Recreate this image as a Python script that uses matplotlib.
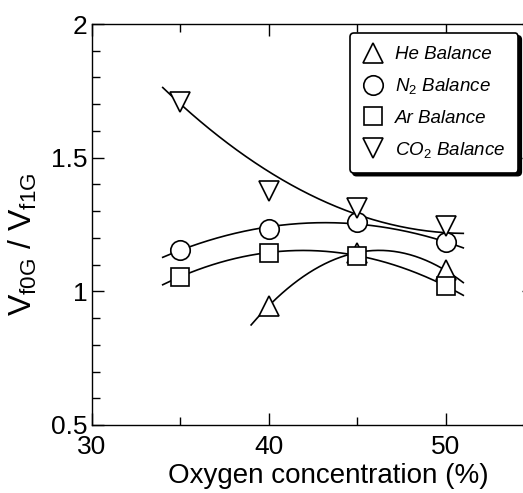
import numpy as np
import matplotlib
matplotlib.use("Agg")
import matplotlib.pyplot as plt
from matplotlib.ticker import MultipleLocator

plt.rcParams['font.family'] = ['Liberation Sans', 'DejaVu Sans']
plt.rcParams['mathtext.fontset'] = 'custom'
plt.rcParams['mathtext.rm'] = 'Liberation Sans'
plt.rcParams['mathtext.it'] = 'Liberation Sans:italic'

# ---- data ----
oxygen = [35, 40, 45, 50]
he_x = [40, 45, 50]
he_y = [0.946, 1.145, 1.078]
n2_y = [1.156, 1.235, 1.258, 1.183]
ar_y = [1.055, 1.145, 1.134, 1.020]
co2_y = [1.708, 1.375, 1.310, 1.243]
# fitted trend line for CO2 as drawn in the reference (read at the same x)
co2_trend = [1.700, 1.450, 1.285, 1.220]

labels = ['He Balance', 'N$_2$ Balance', 'Ar Balance', 'CO$_2$ Balance']
x_ticks = [30, 40, 50]
y_ticks = [0.5, 1.0, 1.5, 2.0]
y_ticklabels = ['0.5', '1', '1.5', '2']

W, H = 523, 493
fig = plt.figure(figsize=(W / 100, H / 100), dpi=100)
ax = fig.add_axes([92 / W, 1 - 425 / H, (534 - 92) / W, (425 - 24) / H])

lw = 1.2
def fit_line(xs, ys, x0, x1):
    c = np.polyfit(xs, ys, 2)
    xx = np.linspace(x0, x1, 200)
    ax.plot(xx, np.polyval(c, xx), color='black', lw=lw, zorder=2)

fit_line(he_x, he_y, 39, 51)
fit_line(oxygen, n2_y, 34, 51)
fit_line(oxygen, ar_y, 34, 51)
fit_line(oxygen, co2_trend, 34, 51)

mk = dict(mfc='white', mec='black', mew=1.2, ms=14, ls='none', zorder=3)
h1, = ax.plot(he_x, he_y, marker='^', label=labels[0], **mk)
h2, = ax.plot(oxygen, n2_y, marker='o', label=labels[1], **mk)
h3, = ax.plot(oxygen, ar_y, marker='s', label=labels[2], **{**mk, 'ms': 13})
h4, = ax.plot(oxygen, co2_y, marker='v', label=labels[3], **mk)

ax.set_xlim(30, 55)
ax.set_ylim(0.5, 2.0)
ax.set_xticks(x_ticks)
ax.set_yticks(y_ticks)
ax.set_yticklabels(y_ticklabels)
ax.xaxis.set_minor_locator(MultipleLocator(5))
ax.yaxis.set_minor_locator(MultipleLocator(0.1))
ax.tick_params(which='both', direction='in', top=True, right=True, width=1.0)
ax.tick_params(which='major', length=8.5)
ax.tick_params(which='minor', length=5.5)
ax.tick_params(axis='x', which='major', labelsize=19, pad=7)
ax.tick_params(axis='y', which='major', labelsize=19, pad=3)
for s in ax.spines.values():
    s.set_linewidth(1.0)

ax.set_xlabel('Oxygen concentration (%)', fontsize=20)
ax.xaxis.set_label_coords((328 - 92) / 442, -0.095)
ax.set_ylabel('V$_{\\mathregular{f0G}}$ / V$_{\\mathregular{f1G}}$', fontsize=23)
ax.yaxis.set_label_coords((39 - 92) / 442, (425 - 244) / 401)

leg = ax.legend(handles=[h1, h2, h3, h4], loc='upper left',
                bbox_to_anchor=(350 / W, 1 - 33 / H), bbox_transform=fig.transFigure,
                borderaxespad=0, fancybox=True,
                shadow={'color': 'black', 'alpha': 1.0},
                prop={'style': 'italic', 'size': 13.5},
                borderpad=0.7, handlelength=1.0, handletextpad=0.7,
                labelspacing=0.7, framealpha=1, edgecolor='black')
leg.get_frame().set_linewidth(1.2)

fig.savefig('out.png', dpi=100)
